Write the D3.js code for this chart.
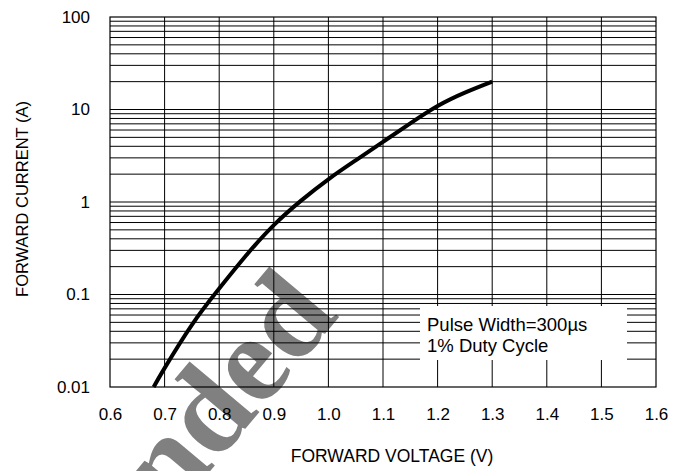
<!DOCTYPE html>
<html>
<head>
<meta charset="utf-8">
<script src="https://cdn.jsdelivr.net/npm/d3@7"></script>
<style>
  body { margin: 0; background: #fff; }
  svg { display: block; font-family: "Liberation Sans", Arial, sans-serif; }
</style>
</head>
<body>
<svg id="chart" width="684" height="471"></svg>
<script>
// forward voltage (V) vs forward current (A)
var voltage = [0.68, 0.70, 0.75, 0.80, 0.85, 0.90, 0.95, 1.00, 1.05, 1.10, 1.15, 1.20, 1.25, 1.30];
var current = [0.01, 0.016, 0.047, 0.116, 0.267, 0.562, 1.035, 1.76, 2.82, 4.47, 7.08, 10.9, 15.2, 20];

var xTicks = [0.6, 0.7, 0.8, 0.9, 1.0, 1.1, 1.2, 1.3, 1.4, 1.5, 1.6];
var yTicks = [0.01, 0.1, 1, 10, 100];
var yTickLabels = ["0.01", "0.1", "1", "10", "100"];
var legendLines = ["Pulse Width=300\u00b5s", "1% Duty Cycle"];

(function() {
    var pLeft = 110, pTop = 17, width = 546, height = 370;

    var svg = d3.select("#chart");

    var x = d3.scaleLinear().domain([0.6, 1.6]).range([pLeft, pLeft + width]);
    var y = d3.scaleLog().domain([0.01, 100]).range([pTop + height, pTop]);

    // watermark, sits behind everything
    svg.append("text")
        .attr("transform", "translate(340,316) rotate(-50)")
        .attr("text-anchor", "end")
        .style("font-family", "'Liberation Serif', 'Times New Roman', serif")
        .style("font-weight", "bold")
        .style("font-size", "124px")
        .style("fill", "#808080")
        .text("Not Recommended");

    // minor log grid: 1..9 x each decade
    var minor = [];
    [0.01, 0.1, 1, 10].forEach(function(d) {
        for (var k = 1; k < 10; k++) minor.push(d * k);
    });

    var grid = svg.append("g").attr("class", "grid")
        .attr("stroke", "#000").attr("stroke-width", 1);

    grid.selectAll("line.h")
        .data(minor.filter(function(v) { return v > 0.01; }))
        .enter().append("line")
        .attr("class", "h")
        .attr("x1", pLeft).attr("x2", pLeft + width)
        .attr("y1", function(d) { return y(d); })
        .attr("y2", function(d) { return y(d); });

    grid.selectAll("line.v")
        .data(xTicks.slice(1, -1))
        .enter().append("line")
        .attr("class", "v")
        .attr("y1", pTop).attr("y2", pTop + height)
        .attr("x1", function(d) { return x(d); })
        .attr("x2", function(d) { return x(d); });

    svg.append("rect")
        .attr("x", pLeft).attr("y", pTop)
        .attr("width", width).attr("height", height)
        .attr("fill", "none").attr("stroke", "#000").attr("stroke-width", 1.2);

    // legend box knocks out the grid
    var legend = svg.append("g");
    legend.append("rect")
        .attr("x", 420).attr("y", 306).attr("width", 207).attr("height", 54)
        .attr("fill", "#fff");
    legend.selectAll("text")
        .data(legendLines)
        .enter().append("text")
        .attr("x", 427)
        .attr("y", function(d, i) { return 331 + i * 21; })
        .style("font-size", "18.5px")
        .text(function(d) { return d; });

    // curve
    var line = d3.line()
        .x(function(d, i) { return x(voltage[i]); })
        .y(function(d) { return y(d); })
        .curve(d3.curveNatural);

    svg.append("path")
        .datum(current)
        .attr("d", line)
        .attr("fill", "none")
        .attr("stroke", "#000")
        .attr("stroke-width", 4);

    // axes (labels only)
    var xAxis = svg.append("g")
        .attr("transform", "translate(0," + (pTop + height) + ")")
        .call(d3.axisBottom(x).tickValues(xTicks).tickSize(0).tickPadding(21)
            .tickFormat(d3.format(".1f")));
    xAxis.select(".domain").remove();
    xAxis.selectAll("text").style("font-size", "17px").attr("fill", "#000");

    var yAxis = svg.append("g")
        .attr("transform", "translate(" + pLeft + ",0)")
        .call(d3.axisLeft(y).tickValues(yTicks).tickSize(0).tickPadding(20)
            .tickFormat(function(d, i) { return yTickLabels[i]; }));
    yAxis.select(".domain").remove();
    yAxis.selectAll("text").style("font-size", "17px").attr("fill", "#000");

    svg.append("text")
        .attr("x", 392).attr("y", 462)
        .attr("text-anchor", "middle")
        .style("font-size", "17.5px")
        .text("FORWARD VOLTAGE (V)");

    svg.append("text")
        .attr("transform", "translate(28,199) rotate(-90)")
        .attr("text-anchor", "middle")
        .style("font-size", "16.5px")
        .text("FORWARD CURRENT (A)");
})();
</script>
</body>
</html>
